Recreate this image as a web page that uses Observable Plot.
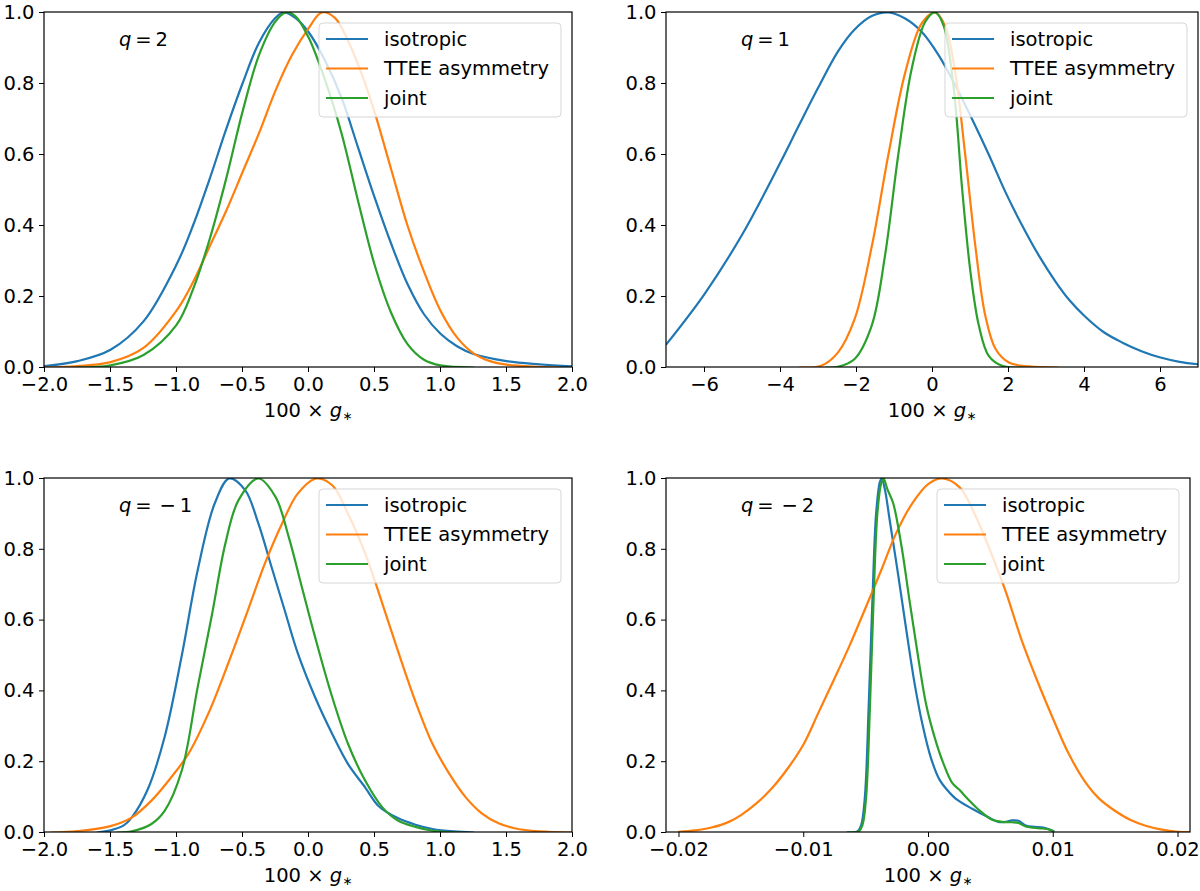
<!DOCTYPE html>
<html>
<head>
<meta charset="utf-8">
<script src="https://cdn.jsdelivr.net/npm/d3@7"></script>
<script src="https://cdn.jsdelivr.net/npm/@observablehq/plot@0.6"></script>
<style>
  body { margin: 0; background: #fff; }
  #fig { position: relative; width: 1200px; height: 891px; font-family: "DejaVu Sans"; }
  #fig svg { position: absolute; }
</style>
</head>
<body>
<div id="fig"></div>
<script>
const seriesNames = ["isotropic", "TTEE asymmetry", "joint"]
const colors = ["#1f77b4", "#ff7f0e", "#2ca02c"]
const yTicks = [0, 0.2, 0.4, 0.6, 0.8, 1.0]

// q = 2  (x in units of 100 g*, y normalised posterior)
const q2Iso = [[-2.0,0.004],[-1.75,0.018],[-1.5,0.05],[-1.25,0.13],[-1.0,0.29],[-0.875,0.40],[-0.75,0.53],[-0.625,0.67],[-0.5,0.8],[-0.375,0.915],[-0.25,0.985],[-0.19,1.0],[-0.1,0.985],[0.0,0.945],[0.125,0.865],[0.25,0.76],[0.375,0.62],[0.5,0.48],[0.625,0.35],[0.75,0.235],[0.875,0.15],[1.0,0.095],[1.125,0.06],[1.25,0.038],[1.5,0.018],[1.75,0.009],[2.0,0.003]]
const q2Ttee = [[-2.0,0.0],[-1.75,0.004],[-1.5,0.015],[-1.25,0.055],[-1.0,0.16],[-0.875,0.24],[-0.75,0.34],[-0.625,0.44],[-0.5,0.55],[-0.375,0.66],[-0.25,0.78],[-0.125,0.88],[0.0,0.955],[0.1,1.0],[0.2,0.985],[0.3,0.92],[0.4,0.83],[0.5,0.72],[0.625,0.56],[0.75,0.4],[0.875,0.27],[1.0,0.16],[1.125,0.085],[1.25,0.04],[1.375,0.018],[1.5,0.008],[1.75,0.002],[1.9,0.0]]
const q2Joint = [[-1.75,0.0],[-1.5,0.006],[-1.25,0.035],[-1.0,0.12],[-0.875,0.22],[-0.75,0.36],[-0.625,0.53],[-0.5,0.72],[-0.375,0.88],[-0.25,0.975],[-0.17,1.0],[-0.1,0.99],[0.0,0.93],[0.125,0.81],[0.25,0.66],[0.375,0.47],[0.5,0.29],[0.625,0.155],[0.75,0.066],[0.875,0.022],[1.0,0.006],[1.25,0.0]]

// q = 1
const q1Iso = [[-7,0.066],[-6,0.207],[-5,0.376],[-4,0.578],[-3.5,0.685],[-3,0.79],[-2.49,0.89],[-2.05,0.952],[-1.6,0.99],[-1.16,1.0],[-0.72,0.983],[-0.28,0.945],[0.16,0.88],[0.6,0.795],[1.04,0.7],[1.48,0.6],[1.92,0.494],[2.36,0.4],[2.8,0.315],[3.25,0.24],[3.6,0.19],[4,0.145],[4.5,0.1],[5,0.07],[5.5,0.046],[6,0.028],[6.5,0.016],[7,0.009]]
const q1Ttee = [[-3.5,0],[-2.93,0.005],[-2.49,0.042],[-2.05,0.136],[-1.6,0.34],[-1.16,0.6],[-0.72,0.83],[-0.28,0.97],[0.07,1.0],[0.34,0.96],[0.6,0.83],[0.86,0.6],[1.13,0.34],[1.39,0.146],[1.66,0.052],[2.01,0.014],[2.54,0.003],[3.3,0]]
const q1Joint = [[-2.8,0],[-2.49,0.002],[-2.05,0.024],[-1.6,0.118],[-1.25,0.315],[-0.9,0.6],[-0.55,0.84],[-0.19,0.974],[0.07,1.0],[0.29,0.964],[0.56,0.785],[0.78,0.503],[1.0,0.268],[1.22,0.118],[1.48,0.033],[1.83,0.005],[2.36,0]]

// q = -1
const qm1Iso = [[-1.6,0],[-1.5,0.006],[-1.4,0.02],[-1.34,0.042],[-1.22,0.12],[-1.09,0.27],[-0.96,0.5],[-0.84,0.74],[-0.71,0.93],[-0.6,1.0],[-0.48,0.967],[-0.38,0.873],[-0.28,0.75],[-0.18,0.627],[-0.08,0.505],[0.05,0.382],[0.18,0.278],[0.3,0.193],[0.43,0.127],[0.53,0.075],[0.68,0.04],[0.81,0.022],[0.94,0.01],[1.1,0.003],[1.25,0]]
const qm1Ttee = [[-1.95,0],[-1.75,0.004],[-1.5,0.018],[-1.34,0.042],[-1.19,0.09],[-1.04,0.156],[-0.91,0.222],[-0.76,0.335],[-0.61,0.476],[-0.46,0.627],[-0.33,0.76],[-0.2,0.873],[-0.08,0.958],[0.06,1.0],[0.18,0.981],[0.3,0.9],[0.43,0.788],[0.56,0.646],[0.68,0.51],[0.81,0.37],[0.94,0.25],[1.06,0.17],[1.19,0.1],[1.31,0.055],[1.44,0.026],[1.56,0.012],[1.75,0.003],[2.0,0]]
const qm1Joint = [[-1.45,0],[-1.34,0.003],[-1.19,0.024],[-1.09,0.061],[-0.96,0.175],[-0.84,0.41],[-0.73,0.618],[-0.63,0.816],[-0.53,0.939],[-0.38,1.0],[-0.25,0.948],[-0.15,0.835],[-0.05,0.693],[0.05,0.552],[0.18,0.382],[0.3,0.25],[0.43,0.146],[0.56,0.071],[0.68,0.033],[0.81,0.016],[0.94,0.005],[1.15,0]]

// q = -2
const qm2Iso = [[-0.0065,0],[-0.0057,0.003],[-0.0054,0.02],[-0.0051,0.1],[-0.0048,0.35],[-0.0045,0.65],[-0.0042,0.9],[-0.0039,0.99],[-0.00375,1.0],[-0.0035,0.97],[-0.0031,0.88],[-0.00244,0.73],[-0.00177,0.57],[-0.00111,0.42],[-0.00045,0.3],[0.0002,0.21],[0.00087,0.15],[0.0015,0.12],[0.0022,0.095],[0.0035,0.067],[0.0048,0.043],[0.0056,0.03],[0.0062,0.03],[0.0067,0.034],[0.0072,0.033],[0.0078,0.02],[0.0085,0.016],[0.0092,0.014],[0.01,0.004]]
const qm2Ttee = [[-0.02,0.002],[-0.0187,0.006],[-0.0174,0.014],[-0.016,0.03],[-0.015,0.05],[-0.0137,0.085],[-0.0125,0.127],[-0.0112,0.185],[-0.01,0.25],[-0.0088,0.34],[-0.0076,0.43],[-0.0063,0.53],[-0.0051,0.63],[-0.0038,0.74],[-0.0026,0.845],[-0.0013,0.93],[0,0.985],[0.0011,1.0],[0.0025,0.975],[0.0037,0.9],[0.0049,0.8],[0.0062,0.68],[0.0074,0.55],[0.0087,0.43],[0.01,0.32],[0.0112,0.225],[0.0125,0.146],[0.0137,0.095],[0.015,0.06],[0.0162,0.035],[0.0174,0.019],[0.0187,0.008],[0.02,0.002],[0.021,0.001]]
const qm2Joint = [[-0.0065,0],[-0.0056,0.003],[-0.0053,0.02],[-0.005,0.1],[-0.0047,0.35],[-0.0044,0.66],[-0.0041,0.9],[-0.0038,0.985],[-0.0036,1.0],[-0.0033,0.97],[-0.00283,0.93],[-0.00217,0.81],[-0.0015,0.65],[-0.00085,0.5],[-0.00018,0.36],[0.00048,0.27],[0.00114,0.2],[0.0019,0.14],[0.0025,0.12],[0.003,0.1],[0.004,0.065],[0.0051,0.036],[0.0059,0.03],[0.0067,0.029],[0.0072,0.027],[0.0078,0.017],[0.0088,0.012],[0.0095,0.01],[0.01,0.004]]

const panels = [
  {q: "2", neg: false, left: 0, top: 0, h: 445, mt: 12, mb: 78, ml: 44, mr: 28,
   domain: [-2, 2], ticks: [-2, -1.5, -1, -0.5, 0, 0.5, 1, 1.5, 2], fmt: ".1f", data: [q2Iso, q2Ttee, q2Joint]},
  {q: "1", neg: false, left: 600, top: 0, h: 445, mt: 12, mb: 78, ml: 66, mr: 2,
   domain: [-7, 7], ticks: [-6, -4, -2, 0, 2, 4, 6], fmt: "d", data: [q1Iso, q1Ttee, q1Joint]},
  {q: "1", neg: true, left: 0, top: 445, h: 446, mt: 33, mb: 59, ml: 44, mr: 28,
   domain: [-2, 2], ticks: [-2, -1.5, -1, -0.5, 0, 0.5, 1, 1.5, 2], fmt: ".1f", data: [qm1Iso, qm1Ttee, qm1Joint]},
  {q: "2", neg: true, left: 600, top: 445, h: 446, mt: 33, mb: 59, ml: 66, mr: 10,
   domain: [-0.021, 0.021], ticks: [-0.02, -0.01, 0, 0.01, 0.02], fmt: ".2f", data: [qm2Iso, qm2Ttee, qm2Joint]}
]

const FS = 19.5

function drawPanel(p) {
  const rows = p.data.flatMap((pts, i) => pts.map(([x, y]) => ({x, y, s: seriesNames[i]})))
  const chart = Plot.plot({
    width: 600,
    height: p.h,
    marginTop: p.mt,
    marginBottom: p.mb,
    marginLeft: p.ml,
    marginRight: p.mr,
    x: {domain: p.domain},
    y: {domain: [0, 1]},
    color: {domain: seriesNames, range: colors},
    style: {fontFamily: "DejaVu Sans", fontSize: FS + "px", color: "black", background: "white", overflow: "visible"},
    marks: [
      Plot.line(rows, {x: "x", y: "y", z: "s", stroke: "s", strokeWidth: 2.2, curve: "catmull-rom", clip: true}),
      Plot.axisX({ticks: p.ticks, tickFormat: d3.format(p.fmt), tickSize: 5, tickPadding: 5, fontSize: FS, label: null}),
      Plot.axisY({ticks: yTicks, tickFormat: d3.format(".1f"), tickSize: 5, tickPadding: 5, fontSize: FS, label: null})
    ]
  })

  const svg = d3.select(chart)
  svg.selectAll("text").attr("font-size", FS).attr("font-family", "DejaVu Sans")
  const fx0 = p.ml, fx1 = 600 - p.mr, fy0 = p.mt, fy1 = p.h - p.mb

  // legend box, like matplotlib's (white, 0.8 alpha)
  const lg = svg.append("g").attr("text-anchor", "start")
  const bw = 242, bh = 94
  const bx = fx1 - 11 - bw, by = fy0 + 11
  lg.append("rect")
    .attr("x", bx).attr("y", by).attr("width", bw).attr("height", bh).attr("rx", 4)
    .attr("fill", "white").attr("fill-opacity", 0.8)
    .attr("stroke", "#cccccc").attr("stroke-opacity", 0.8)
  seriesNames.forEach((name, i) => {
    const yy = by + 16 + i * 29.5
    lg.append("line")
      .attr("x1", bx + 7).attr("x2", bx + 49).attr("y1", yy).attr("y2", yy)
      .attr("stroke", colors[i]).attr("stroke-width", 2.2)
    lg.append("text")
      .attr("x", bx + 65).attr("y", yy).attr("dy", "0.35em")
      .attr("font-size", FS).attr("fill", "black")
      .text(name)
  })

  // axes frame
  svg.append("rect")
    .attr("x", fx0).attr("y", fy0).attr("width", fx1 - fx0).attr("height", fy1 - fy0)
    .attr("fill", "none").attr("stroke", "black").attr("stroke-width", 1.2)

  // q label
  const t = svg.append("text")
    .attr("x", fx0 + 75).attr("y", fy0 + 33.5).attr("text-anchor", "start")
    .attr("font-size", FS).attr("fill", "black")
  t.append("tspan").attr("font-style", "italic").text("q")
  t.append("tspan").text(p.neg
    ? "\u2009=\u2009\u2009\u2212\u2009" + p.q
    : "\u2009=\u2009" + p.q)

  // x label: 100 × g_*
  const xl = svg.append("text")
    .attr("x", (fx0 + fx1) / 2).attr("y", fy1 + 50).attr("text-anchor", "middle")
    .attr("font-size", FS).attr("fill", "black")
  xl.append("tspan").text("100\u00a0\u00d7\u00a0")
  xl.append("tspan").attr("font-style", "italic").text("g")
  xl.append("tspan").attr("font-size", 12).attr("dy", 3).text("\u2217")

  d3.select(chart).style("left", p.left + "px").style("top", p.top + "px")
  d3.select("#fig").append(() => chart)
}

panels.forEach(drawPanel)
</script>
</body>
</html>
